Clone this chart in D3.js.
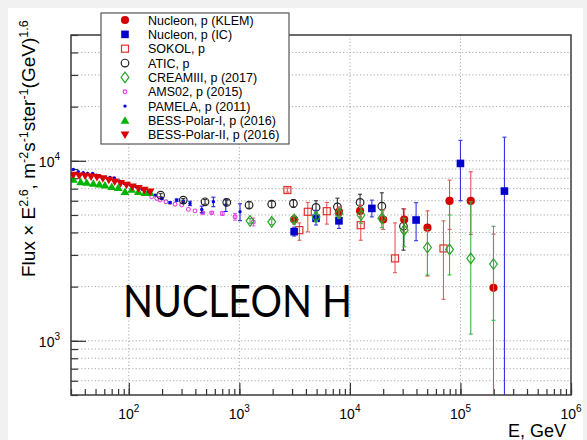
<!DOCTYPE html>
<html>
<head>
<meta charset="utf-8">
<script src="https://cdn.jsdelivr.net/npm/d3@7"></script>
<style>
  body { margin: 0; background: #f1f1f1; }
  svg { display: block; }
  text { font-family: "Liberation Sans", Arial, sans-serif; fill: #000; }
</style>
</head>
<body>
<svg id="chart" width="587" height="440"></svg>
<script>
// ---------- data: proton flux multiplied by E^2.6 ----------
// Nucleon, p (KLEM)
const klemE  = [3130, 7960, 12360, 20000, 31000, 50300, 79700, 124000, 199000];
const klemF  = [4720, 5210, 5270, 4720, 4720, 4250, 5990, 5990, 1970];
const klemLo = [4450, 4880, 4880, 4160, 4000, 2290, 4160, 3900, 300];
const klemHi = [4930, 5550, 5670, 5330, 5400, 5270, 7810, 8690, 3920];
// Nucleon, p (IC)
const icE  = [3130, 4940, 7960, 15800, 39700, 100000, 250000];
const icF  = [4040, 4790, 4640, 5440, 4690, 9670, 6790];
const icLo = [3820, 4400, 4210, 4880, 3600, 6000, 100];
const icHi = [4280, 5310, 4990, 6050, 5850, 13000, 13530];
// SOKOL, p
const sokolE  = [2720, 3490, 4160, 6180, 12530, 25600, 70200];
const sokolF  = [6880, 4120, 5210, 5250, 4390, 2870, 3260];
const sokolLo = [6700, 3620, 4030, 4450, 3620, 2390, 1700];
const sokolHi = [7060, 4520, 5870, 5870, 5100, 4520, 4640];
// ATIC, p
const aticE  = [194, 311, 489, 769, 1224, 1963, 3083, 4940, 7710, 12360, 19450, 30500];
const aticF  = [6440, 6050, 5920, 5870, 5680, 5740, 5800, 5510, 5550, 5870, 5600, 4330];
const aticLo = [6310, 5930, 5740, 5690, 5450, 5510, 5510, 5100, 4950, 5280, 4780, 3190];
const aticHi = [6570, 6170, 6100, 6050, 5910, 5970, 6090, 6000, 6200, 6520, 6640, 5410];
// CREAMIII, p (2017)
const creamE  = [1250, 1963, 3130, 4940, 7960, 12600, 19450, 31000, 50300, 79700, 124000, 199000];
const creamF  = [4640, 4580, 4720, 4880, 5100, 5000, 4790, 4120, 3300, 3220, 2870, 2670];
const creamLo = [4500, 4420, 4520, 4600, 4800, 4500, 4250, 3330, 2320, 2320, 1090, 1300];
const creamHi = [4780, 4740, 4930, 5180, 5420, 5500, 5300, 4800, 4160, 5000, 5920, 4330];
// AMS02, p (2015)
const amsE   = [161, 179, 192, 217, 262, 301, 346, 397, 467, 562, 702, 914, 1340];
const amsF   = [6310, 6180, 6050, 5920, 5740, 5680, 5370, 5270, 5140, 5140, 5100, 4890, 4580];
const amsErr = [0, 0, 0, 0, 0, 0, 0, 0, 60, 80, 120, 210, 230];
// PAMELA, p (2011)
const pamE   = [31.5, 34.9, 38.7, 42.4, 47.1, 51.2, 55.7, 61.3, 67.6, 73.9, 82.0, 91.0, 102.5,
                116, 132, 150, 173, 199, 236, 271, 311, 358, 457, 582, 754, 1014];
const pamF   = [8960, 8690, 8580, 8510, 8510, 8330, 8150, 8090, 8090, 8040, 7740, 7490, 7330,
                7170, 6950, 6730, 6450, 6180, 5850, 6050, 5920, 5800, 5370, 5920, 5680, 5210];
const pamErr = [0, 0, 0, 0, 0, 0, 0, 0, 0, 0, 0, 0, 0,
                0, 0, 0, 0, 60, 70, 90, 120, 160, 230, 360, 450, 560];
// BESS-Polar-I, p (2016)
const bess1E = [31.5, 36.7, 41.6, 47.7, 54.1, 60.9, 70, 80.3, 92.4, 106, 122, 140, 156];
const bess1F = [7880, 7640, 7580, 7490, 7420, 7330, 7170, 7080, 6730, 6940, 6730, 6640, 6640];
// BESS-Polar-II, p (2016)
const bess2E = [31.5, 35.6, 40.3, 45.6, 51.5, 58.3, 65.9, 74.5, 84.3, 95.3, 107.8, 121.9, 137.9, 156];
const bess2F = [8330, 8250, 8220, 8150, 8090, 7980, 7810, 7640, 7490, 7330, 7170, 7030, 6880, 6730];

// axis settings
const xDomain = [30, 1e6];
const yDomain = [500, 5e4];
const xMajor = [1e2, 1e3, 1e4, 1e5, 1e6];
const yMajor = [1e3, 1e4];
const xGrid = [1e2, 1e3, 1e4, 1e5];

// ---------- layout ----------
const svg = d3.select("#chart");
const L = 71, R = 571, T = 35, B = 395;
const x = d3.scaleLog().domain(xDomain).range([L, R]);
const y = d3.scaleLog().domain(yDomain).range([B, T]);

svg.append("rect").attr("x", 8).attr("y", 8).attr("width", 575).attr("height", 432).attr("fill", "#fff");

svg.append("defs").append("clipPath").attr("id", "plotClip")
  .append("rect").attr("x", L).attr("y", T).attr("width", R - L).attr("height", B - T);

// grid
const grid = svg.append("g").attr("stroke", "#a8a8a8").attr("stroke-width", 1).attr("stroke-dasharray", "1.2,2.2");
const yGrid = y.ticks().filter(v => v > yDomain[0] && v < yDomain[1]);
grid.selectAll("line.h").data(yGrid).join("line")
  .attr("x1", L).attr("x2", R).attr("y1", d => y(d)).attr("y2", d => y(d));
grid.selectAll("line.v").data(xGrid).join("line")
  .attr("y1", T).attr("y2", B).attr("x1", d => x(d)).attr("x2", d => x(d));

// ticks
const axisColor = "#333";
const yMinorAxis = d3.axisLeft(y).tickValues(y.ticks()).tickSize(-7).tickFormat("");
const yMajorAxis = d3.axisLeft(y).tickValues(yMajor).tickSize(-15).tickFormat("");
const xMinorAxis = d3.axisBottom(x).tickValues(x.ticks()).tickSize(-6).tickFormat("");
const xMajorAxis = d3.axisBottom(x).tickValues(xMajor).tickSize(-12).tickFormat("");
[[yMinorAxis, `translate(${L},0)`], [yMajorAxis, `translate(${L},0)`],
 [xMinorAxis, `translate(0,${B})`], [xMajorAxis, `translate(0,${B})`]].forEach(([ax, tr]) => {
  const g = svg.append("g").attr("transform", tr).call(ax);
  g.select(".domain").remove();
  g.selectAll("line").attr("stroke", axisColor).attr("stroke-width", 1.2);
});

// tick labels as 10^n
function powerLabel(sel, v) {
  const n = Math.round(Math.log10(v));
  sel.append("tspan").text("10");
  sel.append("tspan").attr("dy", -7).attr("font-size", 10).text(n);
}
yMajor.forEach(v => {
  const t = svg.append("text").attr("x", 60).attr("y", y(v) + 6)
    .attr("text-anchor", "end").attr("font-size", 14);
  powerLabel(t, v);
});
xMajor.forEach(v => {
  const t = svg.append("text").attr("x", x(v)).attr("y", 419)
    .attr("text-anchor", "middle").attr("font-size", 14);
  powerLabel(t, v);
});

// axis titles
svg.append("text").attr("x", 566).attr("y", 437).attr("text-anchor", "end")
  .attr("font-size", 18).text("E, GeV");
const yt = svg.append("text").attr("transform", "translate(35,277) rotate(-90)").attr("font-size", 19);
[["Flux × E", 0, 19], ["2.6", -7.5, 12.5], [", m", 7.5, 19], ["-2", -7.5, 12.5], ["s", 7.5, 19], ["-1", -7.5, 12.5],
 ["ster", 7.5, 19], ["-1", -7.5, 12.5], ["(GeV)", 7.5, 19], ["1.6", -7.5, 12.5]].forEach(([s, dy, fs]) => {
  yt.append("tspan").attr("dy", dy).attr("font-size", fs).text(s);
});

// ---------- markers ----------
function marker(g, type, cx, cy, color) {
  switch (type) {
    case "circleFilled":
      g.append("circle").attr("cx", cx).attr("cy", cy).attr("r", 4.1).attr("fill", color); break;
    case "squareFilled":
      g.append("rect").attr("x", cx - 3.8).attr("y", cy - 3.8).attr("width", 7.6).attr("height", 7.6).attr("fill", color); break;
    case "squareOpen":
      g.append("rect").attr("x", cx - 3.5).attr("y", cy - 3.5).attr("width", 7).attr("height", 7)
        .attr("fill", "none").attr("stroke", color).attr("stroke-width", 1.2); break;
    case "circleOpen":
      g.append("circle").attr("cx", cx).attr("cy", cy).attr("r", 3.8)
        .attr("fill", "none").attr("stroke", color).attr("stroke-width", 1.2); break;
    case "diamondOpen":
      g.append("path").attr("d", `M${cx},${cy - 5.3}L${cx + 3.9},${cy}L${cx},${cy + 5.3}L${cx - 3.9},${cy}Z`)
        .attr("fill", "none").attr("stroke", color).attr("stroke-width", 1.2); break;
    case "smallCircle":
      g.append("circle").attr("cx", cx).attr("cy", cy).attr("r", 1.9)
        .attr("fill", "none").attr("stroke", color).attr("stroke-width", 1.1); break;
    case "dot":
      g.append("circle").attr("cx", cx).attr("cy", cy).attr("r", 1.7).attr("fill", color); break;
    case "triUp":
      g.append("path").attr("d", `M${cx},${cy - 4.2}L${cx + 4.4},${cy + 3.3}L${cx - 4.4},${cy + 3.3}Z`).attr("fill", color); break;
    case "triDown":
      g.append("path").attr("d", `M${cx},${cy + 4.2}L${cx + 4.4},${cy - 3.3}L${cx - 4.4},${cy - 3.3}Z`).attr("fill", color); break;
  }
}

function rows(E, F, lo, hi) {
  return E.map((e, i) => ({ e, f: F[i], lo: lo ? lo[i] : F[i], hi: hi ? hi[i] : F[i] }));
}
function symRows(E, F, err) {
  return E.map((e, i) => ({ e, f: F[i], lo: F[i] - err[i], hi: F[i] + err[i] }));
}

const series = [
  { key: "ams",   label: "AMS02, p (2015)",          data: symRows(amsE, amsF, amsErr), type: "smallCircle",  color: "#e23be2", err: "#e860e8" },
  { key: "pam",   label: "PAMELA, p (2011)",         data: symRows(pamE, pamF, pamErr), type: "dot",          color: "#0000d8", err: "#2020e0" },
  { key: "bess1", label: "BESS-Polar-I, p (2016)",   data: rows(bess1E, bess1F),        type: "triUp",        color: "#00b400", err: "#00b400" },
  { key: "bess2", label: "BESS-Polar-II, p (2016)",  data: rows(bess2E, bess2F),        type: "triDown",      color: "#dd0000", err: "#dd0000" },
  { key: "atic",  label: "ATIC, p",                  data: rows(aticE, aticF, aticLo, aticHi),   type: "circleOpen",   color: "#222", err: "#333" },
  { key: "sokol", label: "SOKOL, p",                 data: rows(sokolE, sokolF, sokolLo, sokolHi), type: "squareOpen", color: "#e03030", err: "#e65a5a" },
  { key: "ic",    label: "Nucleon, p (IC)",          data: rows(icE, icF, icLo, icHi),       type: "squareFilled", color: "#0000cc", err: "#3535e0" },
  { key: "klem",  label: "Nucleon, p (KLEM)",        data: rows(klemE, klemF, klemLo, klemHi), type: "circleFilled", color: "#d40000", err: "#e25050" },
  { key: "cream", label: "CREAMIII, p (2017)",       data: rows(creamE, creamF, creamLo, creamHi), type: "diamondOpen", color: "#2aa52a", err: "#45b045" }
];

const plot = svg.append("g").attr("clip-path", "url(#plotClip)");
series.forEach(s => {
  const g = plot.append("g");
  // error bars with small end caps
  s.data.filter(d => d.hi > d.f || d.lo < d.f).forEach(d => {
    const cx = x(d.e), y1 = y(d.hi), y2 = y(Math.max(d.lo, 1));
    g.append("line").attr("x1", cx).attr("x2", cx).attr("y1", y1).attr("y2", y2)
      .attr("stroke", s.err).attr("stroke-width", 1.1);
    [y1, y2].forEach(yy => g.append("line").attr("x1", cx - 2).attr("x2", cx + 2)
      .attr("y1", yy).attr("y2", yy).attr("stroke", s.err).attr("stroke-width", 1.1));
  });
  s.data.forEach(d => marker(g, s.type, x(d.e), y(d.f), s.color));
});

// frame
svg.append("rect").attr("x", L).attr("y", T).attr("width", R - L).attr("height", B - T)
  .attr("fill", "none").attr("stroke", "#3a3a3a").attr("stroke-width", 1.5);

// big label
svg.append("text").attr("x", 123).attr("y", 317)
  .style("font-family", "Lato, 'Open Sans', sans-serif").attr("font-size", 44)
  .attr("textLength", 229).attr("lengthAdjust", "spacingAndGlyphs").text("NUCLEON H");

// ---------- legend ----------
const legendOrder = ["klem", "ic", "sokol", "atic", "cream", "ams", "pam", "bess1", "bess2"];
const lg = svg.append("g");
lg.append("rect").attr("x", 101).attr("y", 13).attr("width", 188).attr("height", 131)
  .attr("fill", "#fff").attr("stroke", "#555").attr("stroke-width", 1.2);
legendOrder.forEach((k, i) => {
  const s = series.find(d => d.key === k);
  const cy = 20 + i * 14.35;
  marker(lg, s.type, 125, cy, s.color);
  lg.append("text").attr("x", 148).attr("y", cy + 4.5).attr("font-size", 12.5).text(s.label);
});
</script>
</body>
</html>
